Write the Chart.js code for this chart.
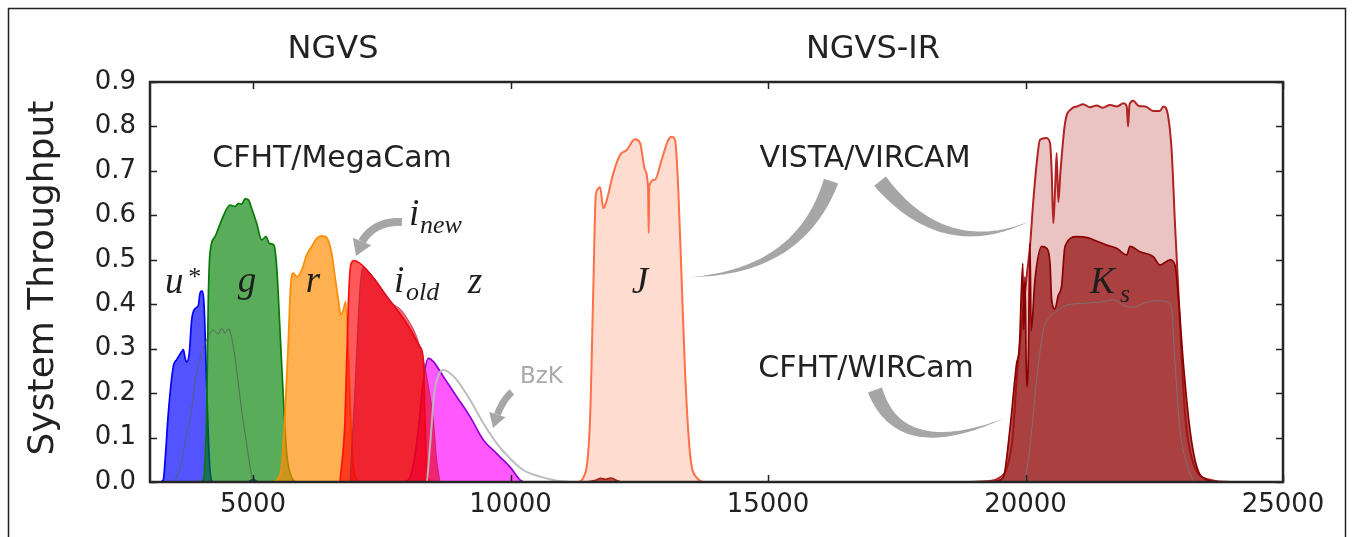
<!DOCTYPE html>
<html>
<head>
<meta charset="utf-8">
<title>NGVS / NGVS-IR filter throughput</title>
<script src="https://cdn.jsdelivr.net/npm/chart.js@4.4.1/dist/chart.umd.min.js"></script>
<style>
  html, body { margin: 0; padding: 0; background: #ffffff; }
  canvas { display: block; }
</style>
</head>
<body>
<canvas id="c" width="1353" height="537"></canvas>
<script>
// ---- Filter transmission curves (wavelength in Angstrom, system throughput) ----

// CFHT/MegaCam u*
const uStarWave = [3200, 3259, 3300, 3356, 3453, 3518, 3615, 3647, 3680, 3712, 3763, 3809, 3874, 3938, 3971, 4016, 4049, 4074, 4113, 4152, 4197, 4260, 4900, 5000, 5100];
const uStarThru = [0, 0.005, 0.06, 0.155, 0.26, 0.275, 0.293, 0.298, 0.28, 0.27, 0.29, 0.364, 0.39, 0.397, 0.424, 0.43, 0.40, 0.32, 0.17, 0.05, 0.003, 0, 0, 0.006, 0];

// secondary blue-band curve (thin grey line)
const uAltWave = [3480, 3600, 3700, 3777, 3850, 3906, 4000, 4100, 4229, 4326, 4392, 4456, 4521, 4618, 4715, 4780, 4845, 4942, 5000];
const uAltThru = [0, 0.04, 0.1, 0.14, 0.2, 0.245, 0.29, 0.32, 0.342, 0.333, 0.346, 0.335, 0.345, 0.305, 0.222, 0.16, 0.11, 0.035, 0];

// CFHT/MegaCam g
const gWave = [3980, 4036, 4070, 4100, 4130, 4165, 4262, 4392, 4553, 4650, 4715, 4780, 4845, 4909, 4974, 5071, 5168, 5252, 5317, 5406, 5460, 5524, 5589, 5654, 5751, 5820];
const gThru = [0, 0.005, 0.05, 0.155, 0.40, 0.515, 0.552, 0.59, 0.623, 0.62, 0.627, 0.625, 0.637, 0.635, 0.616, 0.582, 0.545, 0.552, 0.537, 0.533, 0.484, 0.342, 0.19, 0.065, 0.01, 0];

// CFHT/MegaCam r
const rWave = [5400, 5500, 5560, 5620, 5680, 5730, 5783, 5848, 5945, 6043, 6140, 6237, 6334, 6431, 6528, 6592, 6657, 6706, 6754, 6800, 6851, 6897, 6948, 7045];
const rThru = [0, 0.01, 0.04, 0.15, 0.30, 0.44, 0.47, 0.462, 0.477, 0.511, 0.53, 0.548, 0.554, 0.55, 0.515, 0.462, 0.41, 0.376, 0.387, 0.406, 0.29, 0.14, 0.035, 0];

// CFHT/MegaCam i (new filter)
const iNewWave = [6690, 6787, 6851, 6897, 6961, 7078, 7208, 7369, 7531, 7725, 7919, 8081, 8243, 8308, 8340, 8372, 8437];
const iNewThru = [0, 0.14, 0.40, 0.488, 0.498, 0.492, 0.477, 0.455, 0.428, 0.398, 0.368, 0.338, 0.304, 0.275, 0.14, 0.035, 0];

// CFHT/MegaCam i (old filter)
const iOldWave = [6880, 6980, 7078, 7142, 7272, 7466, 7725, 7854, 7984, 8178, 8308, 8400, 8502, 8567, 8632];
const iOldThru = [0, 0.214, 0.44, 0.484, 0.47, 0.44, 0.40, 0.39, 0.37, 0.327, 0.275, 0.22, 0.14, 0.05, 0];

// CFHT/MegaCam z
const zWave = [7950, 8049, 8130, 8211, 8308, 8405, 8502, 8697, 8956, 9214, 9473, 9732, 9990, 10184, 10250];
const zThru = [0, 0.01, 0.05, 0.117, 0.23, 0.278, 0.271, 0.237, 0.192, 0.147, 0.0945, 0.064, 0.034, 0.005, 0];

// BzK z-band
const bzkWave = [8380, 8450, 8520, 8600, 8697, 8800, 8956, 9214, 9473, 9732, 9990, 10247, 10573, 10900, 11200];
const bzkThru = [0, 0.1, 0.2, 0.24, 0.252, 0.247, 0.23, 0.185, 0.132, 0.087, 0.053, 0.027, 0.012, 0.003, 0];

// VISTA/VIRCAM J
const jWave = [10500, 11300, 11414, 11544, 11609, 11654, 11700, 11738, 11803, 11868, 11997, 12126, 12256, 12417, 12515, 12612, 12670, 12683, 12696, 12806, 12935, 13065, 13130, 13194, 13240, 13305, 13388, 13485, 13615, 13800, 15000];
const jThru = [0, 0, 0.01, 0.14, 0.44, 0.642, 0.66, 0.664, 0.616, 0.634, 0.695, 0.736, 0.747, 0.771, 0.763, 0.702, 0.664, 0.56, 0.667, 0.68, 0.725, 0.77, 0.777, 0.77, 0.702, 0.515, 0.252, 0.065, 0.01, 0, 0];

// VISTA/VIRCAM Ks
const vKsWave = [18800, 19311, 19500, 19634, 19750, 19828, 19950, 20030, 20087, 20150, 20217, 20282, 20400, 20476, 20508, 20540, 20575, 20605, 20637, 20680, 20767, 20897, 21000, 21120, 21250, 21380, 21500, 21640, 21780, 21900, 21965, 21992, 22020, 22093, 22200, 22330, 22480, 22612, 22676, 22767, 22838, 22903, 22960, 23020, 23097, 23259, 23583, 24000, 25000];
const vKsThru = [0, 0.002, 0.01, 0.03, 0.1, 0.23, 0.38, 0.47, 0.53, 0.63, 0.717, 0.77, 0.774, 0.763, 0.70, 0.582, 0.66, 0.74, 0.63, 0.70, 0.807, 0.84, 0.845, 0.85, 0.843, 0.847, 0.842, 0.848, 0.845, 0.852, 0.845, 0.80, 0.85, 0.858, 0.846, 0.845, 0.835, 0.835, 0.845, 0.825, 0.745, 0.58, 0.45, 0.31, 0.155, 0.042, 0.005, 0, 0];

// CFHT/WIRCam Ks
const cKsWave = [11500, 11650, 11750, 11850, 11950, 12050, 12150, 19300, 19566, 19696, 19828, 19880, 19947, 19965, 19990, 20022, 20055, 20087, 20110, 20184, 20315, 20411, 20476, 20508, 20570, 20637, 20700, 20767, 20994, 21200, 21317, 21576, 21770, 21964, 22029, 22223, 22482, 22612, 22806, 22903, 22968, 23065, 23194, 23324, 23518, 23800, 25000];
const cKsThru = [0, 0.004, 0.008, 0.006, 0.009, 0.004, 0, 0, 0.01, 0.117, 0.267, 0.30, 0.492, 0.342, 0.462, 0.214, 0.28, 0.537, 0.34, 0.455, 0.53, 0.526, 0.492, 0.41, 0.39, 0.42, 0.44, 0.53, 0.552, 0.55, 0.545, 0.533, 0.526, 0.511, 0.53, 0.518, 0.507, 0.488, 0.5, 0.488, 0.417, 0.267, 0.117, 0.035, 0.005, 0, 0];

// secondary Ks curve (thin grey line)
const kAltWave = [19990, 20087, 20217, 20346, 20443, 20605, 20800, 21123, 21447, 21706, 21900, 22094, 22288, 22547, 22773, 22838, 22903, 23000, 23130, 23260];
const kAltThru = [0, 0.08, 0.23, 0.342, 0.368, 0.384, 0.398, 0.402, 0.405, 0.41, 0.398, 0.393, 0.402, 0.408, 0.405, 0.387, 0.267, 0.117, 0.042, 0];

// axis ticks
const xTicks = [5000, 10000, 15000, 20000, 25000];
const yTicks = [0.0, 0.1, 0.2, 0.3, 0.4, 0.5, 0.6, 0.7, 0.8, 0.9];

// ---- helpers ----
const pts = (w, t) => w.map((x, i) => ({ x: x, y: t[i] }));

function band(wave, thru, fillColor, lineColor, lineWidth, order) {
  return {
    data: pts(wave, thru),
    backgroundColor: fillColor,
    borderColor: lineColor,
    borderWidth: lineWidth,
    fill: fillColor ? 'origin' : false,
    pointRadius: 0,
    cubicInterpolationMode: 'monotone',
    borderJoinStyle: 'round',
    order: order
  };
}

// higher "order" is painted first (underneath)
const datasets = [
  band(vKsWave, vKsThru, 'rgba(178,34,34,0.27)', '#b22222', 2, 20),
  band(cKsWave, cKsThru, 'rgba(150,20,20,0.75)', '#8b0000', 1.7, 19),
  band(kAltWave, kAltThru, null, 'rgba(120,120,120,0.85)', 1, 18),
  band(jWave, jThru, 'rgba(255,127,80,0.27)', '#ff7048', 2, 17),
  band(uStarWave, uStarThru, 'rgba(0,0,255,0.67)', '#0000ff', 1.7, 16),
  band(gWave, gThru, 'rgba(0,128,0,0.65)', '#087a08', 1.7, 15),
  band(uAltWave, uAltThru, null, 'rgba(90,90,90,0.8)', 1, 14),
  band(rWave, rThru, 'rgba(255,140,0,0.68)', '#ff8c00', 1.7, 13),
  band(zWave, zThru, 'rgba(255,0,255,0.65)', '#9400d3', 1.7, 12),
  band(iNewWave, iNewThru, 'rgba(255,0,0,0.65)', '#ff1010', 1.7, 11),
  band(iOldWave, iOldThru, 'rgba(230,0,20,0.6)', 'rgba(170,30,70,0.7)', 1, 10),
  band(bzkWave, bzkThru, null, 'rgba(185,185,185,0.95)', 2, 9)
];

// ---- drawing helpers for annotations ----
function quadPoint(p0, p1, p2, t) {
  const a = (1 - t) * (1 - t), b = 2 * (1 - t) * t, c = t * t;
  return { x: a * p0.x + b * p1.x + c * p2.x, y: a * p0.y + b * p1.y + c * p2.y };
}
function quadTangent(p0, p1, p2, t) {
  const dx = 2 * (1 - t) * (p1.x - p0.x) + 2 * t * (p2.x - p1.x);
  const dy = 2 * (1 - t) * (p1.y - p0.y) + 2 * t * (p2.y - p1.y);
  const L = Math.hypot(dx, dy) || 1;
  return { x: dx / L, y: dy / L };
}

// tapered curved wedge: width w0 at p0 shrinking to 0 at p2
function drawWedge(ctx, p0, p1, p2, w0, color) {
  const n = 48, left = [], right = [];
  for (let i = 0; i <= n; i++) {
    const t = i / n, p = quadPoint(p0, p1, p2, t), d = quadTangent(p0, p1, p2, t);
    const hw = w0 * (1 - t) / 2;
    left.push({ x: p.x - d.y * hw, y: p.y + d.x * hw });
    right.push({ x: p.x + d.y * hw, y: p.y - d.x * hw });
  }
  ctx.beginPath();
  ctx.moveTo(left[0].x, left[0].y);
  left.forEach(q => ctx.lineTo(q.x, q.y));
  for (let i = right.length - 1; i >= 0; i--) ctx.lineTo(right[i].x, right[i].y);
  ctx.closePath();
  ctx.fillStyle = color;
  ctx.fill();
}

// curved arrow with constant-width body and triangular head at p2
function drawArrow(ctx, p0, p1, p2, bodyW, headL, headW, color) {
  const n = 60, samples = [];
  let len = 0, prev = null;
  for (let i = 0; i <= n; i++) {
    const t = i / n, p = quadPoint(p0, p1, p2, t);
    if (prev) len += Math.hypot(p.x - prev.x, p.y - prev.y);
    samples.push({ t: t, p: p, s: len });
    prev = p;
  }
  const stop = len - headL;
  const left = [], right = [];
  let base = samples[0];
  for (const smp of samples) {
    if (smp.s > stop) break;
    base = smp;
    const d = quadTangent(p0, p1, p2, smp.t), hw = bodyW / 2;
    left.push({ x: smp.p.x - d.y * hw, y: smp.p.y + d.x * hw });
    right.push({ x: smp.p.x + d.y * hw, y: smp.p.y - d.x * hw });
  }
  ctx.fillStyle = color;
  ctx.beginPath();
  ctx.moveTo(left[0].x, left[0].y);
  left.forEach(q => ctx.lineTo(q.x, q.y));
  for (let i = right.length - 1; i >= 0; i--) ctx.lineTo(right[i].x, right[i].y);
  ctx.closePath();
  ctx.fill();
  const bx = base.p.x, by = base.p.y;
  const dx = p2.x - bx, dy = p2.y - by, L = Math.hypot(dx, dy) || 1;
  const ux = dx / L, uy = dy / L, hh = headW / 2;
  ctx.beginPath();
  ctx.moveTo(bx - uy * hh, by + ux * hh);
  ctx.lineTo(p2.x, p2.y);
  ctx.lineTo(bx + uy * hh, by - ux * hh);
  ctx.closePath();
  ctx.fill();
}

// ---- plot frame with inward ticks on all four sides ----
const framePlugin = {
  id: 'frame',
  afterDatasetsDraw(chart) {
    const { ctx, chartArea: a, scales: { x, y } } = chart;
    ctx.save();
    ctx.strokeStyle = '#222';
    ctx.lineWidth = 1.5;
    const tl = 7;
    ctx.beginPath();
    xTicks.forEach(v => {
      const px = Math.round(x.getPixelForValue(v)) + 0.5;
      ctx.moveTo(px, a.bottom); ctx.lineTo(px, a.bottom - tl);
      ctx.moveTo(px, a.top); ctx.lineTo(px, a.top + tl);
    });
    yTicks.forEach(v => {
      const py = Math.round(y.getPixelForValue(v)) + 0.5;
      ctx.moveTo(a.left, py); ctx.lineTo(a.left + tl, py);
      ctx.moveTo(a.right, py); ctx.lineTo(a.right - tl, py);
    });
    ctx.stroke();
    ctx.lineWidth = 2.5;
    ctx.strokeStyle = '#262626';
    ctx.strokeRect(a.left, a.top, a.right - a.left, a.bottom - a.top);
    ctx.restore();
  }
};

// ---- titles, labels and pointer arrows ----
const annotationPlugin = {
  id: 'annotations',
  afterDraw(chart) {
    const { ctx, scales: { x, y } } = chart;
    const P = (wx, ty) => ({ x: x.getPixelForValue(wx), y: y.getPixelForValue(ty) });
    ctx.save();

    // figure border
    ctx.strokeStyle = '#222';
    ctx.lineWidth = 1.5;
    ctx.strokeRect(8.5, 8.5, 1337, 560);

    const sans = 'DejaVu Sans, Verdana, sans-serif';
    const serif = '"Liberation Serif", "Times New Roman", serif';
    ctx.fillStyle = '#222';
    ctx.textBaseline = 'alphabetic';

    // panel headings
    ctx.font = '32px ' + sans;
    ctx.textAlign = 'center';
    let p = P(6553, 0.954); ctx.fillText('NGVS', p.x, p.y);
    p = P(17038, 0.954); ctx.fillText('NGVS-IR', p.x, p.y);

    // instrument names
    ctx.font = '30px ' + sans;
    p = P(6534, 0.709); ctx.fillText('CFHT/MegaCam', p.x, p.y);
    p = P(16883, 0.709); ctx.fillText('VISTA/VIRCAM', p.x, p.y);
    p = P(16903, 0.236); ctx.fillText('CFHT/WIRCam', p.x, p.y);

    // y axis title
    ctx.save();
    ctx.translate(53, 278);
    ctx.rotate(-Math.PI / 2);
    ctx.font = '36px ' + sans;
    ctx.textAlign = 'center';
    ctx.fillText('System Throughput', 0, 0);
    ctx.restore();

    // BzK label
    ctx.fillStyle = '#ababab';
    ctx.font = '23px ' + sans;
    ctx.textAlign = 'left';
    p = P(10184, 0.223); ctx.fillText('BzK', p.x, p.y);

    // filter names (math italic)
    ctx.fillStyle = '#1e1e1e';
    const big = 'italic 37px ' + serif, small = 'italic 26px ' + serif;
    const label = (txt, wx, ty, font, align) => {
      ctx.font = font; ctx.textAlign = align || 'left';
      const q = P(wx, ty); ctx.fillText(txt, q.x, q.y);
    };
    label('u', 3291, 0.425, big);
    label('*', 3718, 0.443, small);
    label('g', 4883, 0.4275, big, 'center');
    label('r', 6165, 0.4275, big, 'center');
    label('i', 7738, 0.4275, big);
    label('old', 7971, 0.41, small);
    label('z', 9311, 0.4253, big, 'center');
    label('i', 8029, 0.578, big);
    label('new', 8243, 0.560, small);
    label('J', 12514, 0.4253, big, 'center');
    label('K', 21252, 0.425, big);
    label('s', 21835, 0.405, small);

    // pointer arrows
    const grey = '#a6a6a6';
    drawArrow(ctx, P(7892, 0.585), P(7194, 0.588), P(7000, 0.5085), 8, 15, 20, grey);
    drawArrow(ctx, P(10029, 0.2025), P(9796, 0.18), P(9660, 0.1215), 7, 14, 17, grey);
    drawWedge(ctx, P(16223, 0.677), P(15621, 0.4725), P(13485, 0.461), 15, grey);
    drawWedge(ctx, P(17174, 0.677), P(18398, 0.502), P(20048, 0.585), 15, grey);
    drawWedge(ctx, P(17077, 0.207), P(17563, 0.045), P(19602, 0.144), 15, grey);

    ctx.restore();
  }
};

const tickFont = { family: 'DejaVu Sans', size: 26 };

new Chart(document.getElementById('c'), {
  type: 'line',
  data: { datasets: datasets },
  options: {
    responsive: false,
    animation: false,
    devicePixelRatio: 1,
    layout: { padding: { left: 0, right: 70, top: 82, bottom: 0 } },
    plugins: {
      legend: { display: false },
      tooltip: { enabled: false },
      filler: { propagate: false }
    },
    scales: {
      x: {
        type: 'linear',
        min: 3000,
        max: 25000,
        grid: { display: false, drawTicks: false },
        border: { display: false },
        afterBuildTicks: s => { s.ticks = xTicks.map(v => ({ value: v })); },
        afterFit: s => { s.height = 55; },
        ticks: {
          padding: 8,
          color: '#222',
          font: tickFont,
          maxRotation: 0,
          autoSkip: false,
          callback: v => String(v)
        }
      },
      y: {
        type: 'linear',
        min: 0,
        max: 0.9,
        grid: { display: false, drawTicks: false },
        border: { display: false },
        afterBuildTicks: s => { s.ticks = yTicks.map(v => ({ value: v })); },
        afterFit: s => { s.width = 150; },
        ticks: {
          padding: 14,
          color: '#222',
          font: tickFont,
          autoSkip: false,
          callback: v => Number(v).toFixed(1)
        }
      }
    }
  },
  plugins: [framePlugin, annotationPlugin]
});
</script>
</body>
</html>
